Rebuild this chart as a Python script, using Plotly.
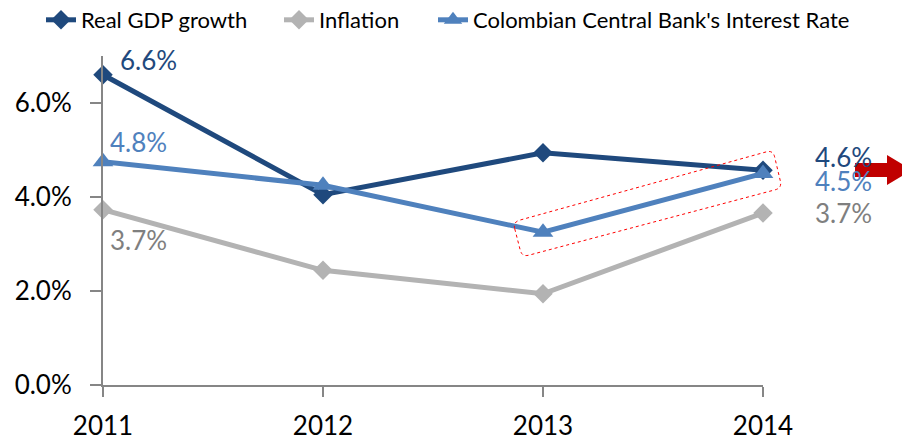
import plotly.graph_objects as go

years = ["2011", "2012", "2013", "2014"]
gdp = [6.6, 4.05, 4.94, 4.57]
inflation = [3.73, 2.44, 1.94, 3.66]
rate = [4.75, 4.25, 3.25, 4.5]
gdp_labels = ["6.6%", "4.6%"]
inf_labels = ["3.7%", "3.7%"]
rate_labels = ["4.8%", "4.5%"]
y_ticks = [0, 2, 4, 6]
y_ticktext = ["0.0%", "2.0%", "4.0%", "6.0%"]
series_names = ["Real GDP growth", "Inflation", "Colombian Central Bank's Interest Rate"]

xi = list(range(len(years)))

C_GDP = "#1F497D"
C_INF = "#B3B3B3"
C_RATE = "#4F81BD"
FONT = "Lato"

# plot area in pixels
L, R, T, B = 103, 763, 56, 385
W, H = 902, 438


def px(x, y):
    return ((x - L) / (R - L), (B - y) / (B - T))


fig = go.Figure()
fig.add_trace(go.Scatter(x=xi, y=gdp, name=series_names[0], mode="lines+markers",
                         line=dict(color=C_GDP, width=5), legend="legend",
                         marker=dict(symbol="diamond", size=15, color=C_GDP), cliponaxis=False))
fig.add_trace(go.Scatter(x=xi, y=inflation, name=series_names[1], mode="lines+markers",
                         line=dict(color=C_INF, width=5), legend="legend2",
                         marker=dict(symbol="diamond", size=15, color=C_INF), cliponaxis=False))
fig.add_trace(go.Scatter(x=xi, y=rate, name=series_names[2], mode="lines+markers",
                         line=dict(color=C_RATE, width=5), legend="legend3",
                         marker=dict(symbol="triangle-up", size=18, color=C_RATE), cliponaxis=False))

ann = []
def lab(x, y, text, color, xs, ys):
    ann.append(dict(x=x, y=y, xref="x", yref="y", text=text, showarrow=False,
                    xanchor="left", yanchor="middle", xshift=xs, yshift=ys,
                    font=dict(family=FONT, size=26, color=color)))

lab(xi[0], gdp[0], gdp_labels[0], C_GDP, 15, 15)
lab(xi[0], rate[0], rate_labels[0], C_RATE, 5, 20)
lab(xi[0], inflation[0], inf_labels[0], "#7F7F7F", 5, -30)
lab(xi[3], gdp[3], gdp_labels[1], C_GDP, 50, 13)
lab(xi[3], rate[3], rate_labels[1], C_RATE, 50, -7)
lab(xi[3], inflation[3], inf_labels[1], "#7F7F7F", 50, 0)

# rotated rounded rectangle (dotted red)
corners = [(513, 222), (773, 150), (782, 188), (522, 257)]
r = 7
def lerp(a, b, t):
    return (a[0] + (b[0] - a[0]) * t, a[1] + (b[1] - a[1]) * t)
def dist(a, b):
    return ((a[0] - b[0]) ** 2 + (a[1] - b[1]) ** 2) ** 0.5
n = len(corners)
path = ""
for i in range(n):
    p0 = corners[i - 1]
    p1 = corners[i]
    p2 = corners[(i + 1) % n]
    a = lerp(p1, p0, r / dist(p1, p0))
    b = lerp(p1, p2, r / dist(p1, p2))
    pa, pc, pb = px(*a), px(*p1), px(*b)
    path += ("M" if i == 0 else "L") + f"{pa[0]},{pa[1]} "
    path += f"Q{pc[0]},{pc[1]} {pb[0]},{pb[1]} "
path += "Z"

shapes = [dict(type="path", xref="paper", yref="paper", path=path,
               line=dict(color="#FF0000", width=1, dash="dot"), fillcolor="rgba(0,0,0,0)")]

# red block arrow
arrow_pts = [(855, 163), (887, 163), (887, 155), (912, 170), (887, 185), (887, 177), (855, 177)]
ap = [px(*p) for p in arrow_pts]
apath = "M" + " L".join(f"{x},{y}" for x, y in ap) + " Z"
shapes.append(dict(type="path", xref="paper", yref="paper", path=apath,
                   line=dict(width=0), fillcolor="#C00000"))

legend_text_x = [86, 324, 478]
def leg(tx):
    return dict(orientation="h", x=(tx - 45 - L) / (R - L), y=(B - 20) / (B - T),
                xanchor="left", yanchor="middle",
                font=dict(family=FONT, size=22, color="black"), bgcolor="rgba(0,0,0,0)",
                borderwidth=0)

fig.update_layout(
    width=W, height=H,
    margin=dict(l=L, r=W - R, t=T, b=H - B, autoexpand=False),
    paper_bgcolor="white", plot_bgcolor="white",
    font=dict(family=FONT, size=26, color="black"),
    showlegend=True,
    legend=leg(legend_text_x[0]),
    legend2=leg(legend_text_x[1]),
    legend3=leg(legend_text_x[2]),
    xaxis=dict(range=[0, 3], tickvals=xi, ticktext=years, showgrid=False, showline=True,
               linecolor="#868686", linewidth=2, ticks="outside", ticklen=10, tickcolor="#868686",
               tickwidth=2, ticklabelstandoff=7,
               tickfont=dict(family=FONT, size=26, color="black"), zeroline=False),
    yaxis=dict(range=[0, 7], tickvals=y_ticks, ticktext=y_ticktext, showgrid=False, showline=True,
               linecolor="#868686", linewidth=2, ticks="outside", ticklen=11, tickcolor="#868686",
               tickwidth=2, ticklabelstandoff=13,
               tickfont=dict(family=FONT, size=26, color="black"), zeroline=False),
    annotations=ann, shapes=shapes,
)

fig.write_html("out.html", config={"displayModeBar": False},
               post_script="document.body.style.margin='0';document.body.style.overflow='hidden';")
